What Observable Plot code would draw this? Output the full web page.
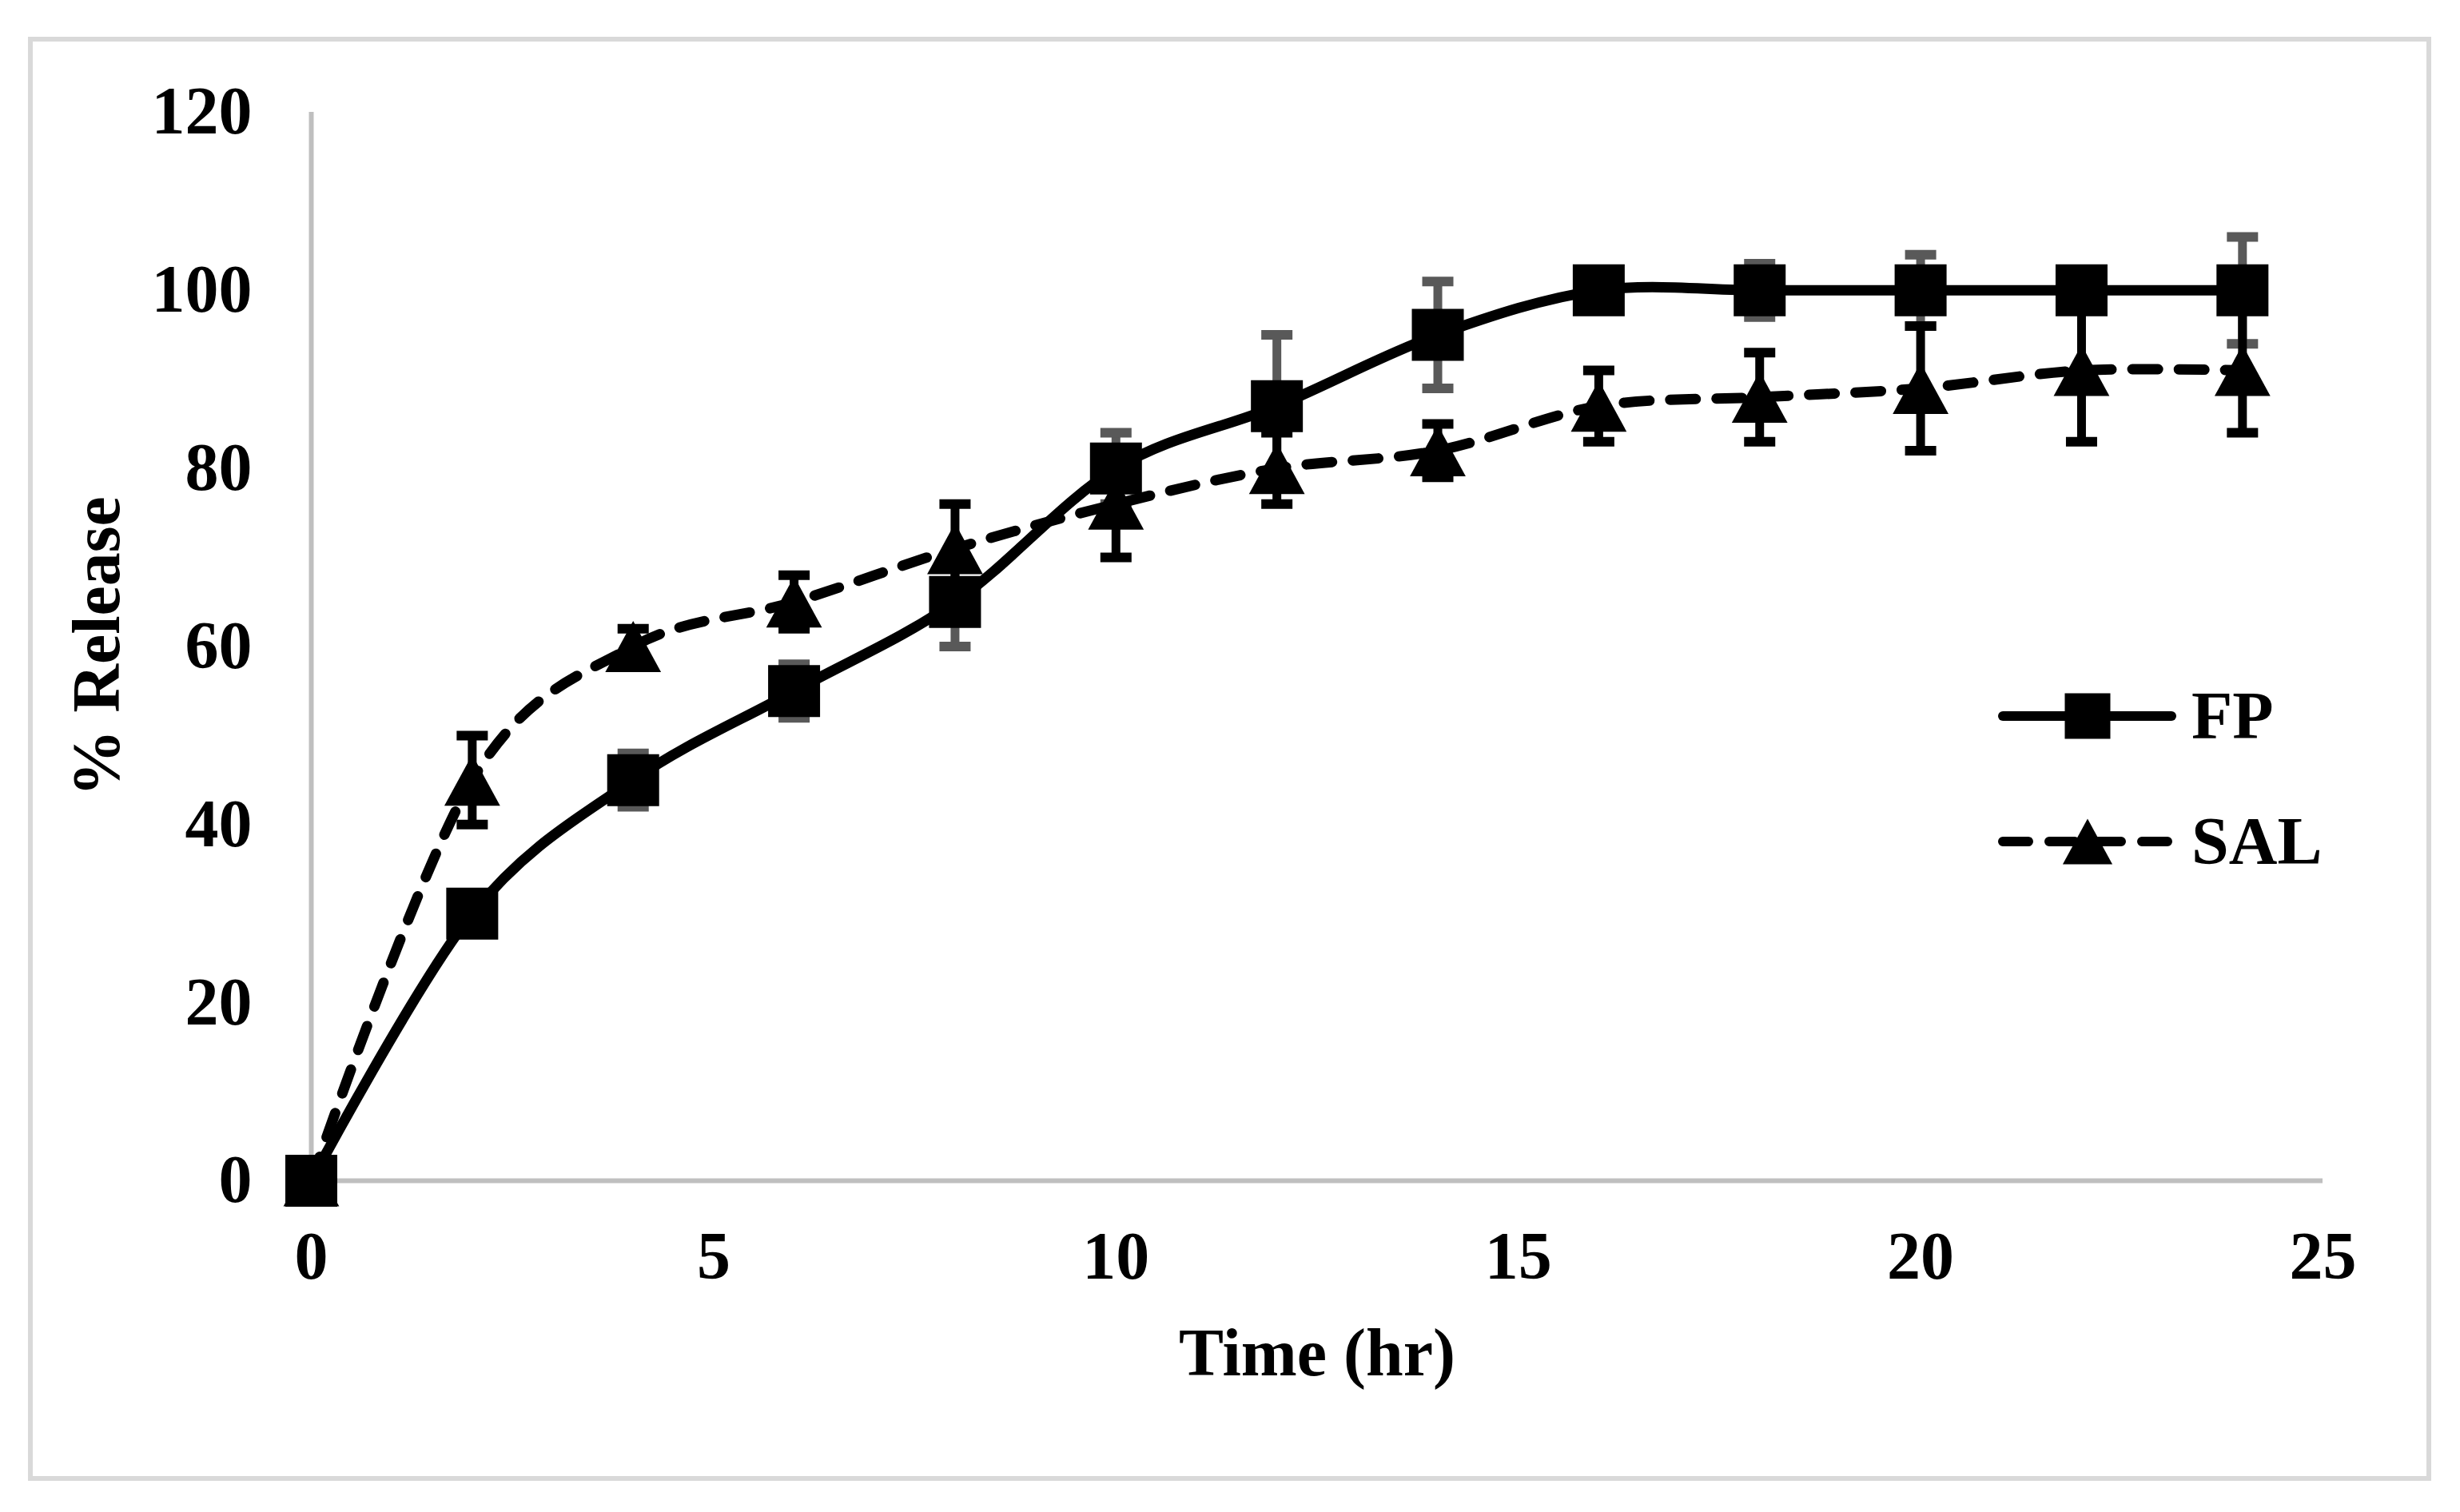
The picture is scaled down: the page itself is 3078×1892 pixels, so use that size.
<!DOCTYPE html>
<html>
<head>
<meta charset="utf-8">
<script src="https://cdn.jsdelivr.net/npm/d3@7"></script>
<script src="https://cdn.jsdelivr.net/npm/@observablehq/plot@0.6"></script>
<style>
  html, body { margin: 0; padding: 0; background: #fff; }
  #wrap { position: relative; width: 3078px; height: 1892px; overflow: hidden; }
  #frame { position: absolute; left: 35px; top: 46px; width: 2995px; height: 1795px; border: 6px solid #d9d9d9; }
  #chart { position: absolute; left: 0; top: 0; }
  #legend { position: absolute; left: 2480px; top: 820px; }
</style>
</head>
<body>
<div id="wrap">
  <div id="frame"></div>
  <div id="chart"></div>
  <div id="legend"></div>
</div>
<script>
// ---- data ----
const time       = [0, 2, 4, 6, 8, 10, 12, 14, 16, 18, 20, 22, 24];
const fpRelease  = [0, 30, 45, 55, 65, 80, 87, 95, 100, 100, 100, 100, 100];
const fpError    = [0, 0, 3, 3, 5, 4, 8, 6, 0, 3, 4, 0, 6];
const salRelease = [0, 45, 60, 65, 71, 76, 80, 82, 87, 88, 89, 91, 91];
const salError   = [0, 5, 2, 3, 5, 6, 4, 3, 4, 5, 7, 8, 7];
const seriesNames = ["FP", "SAL"];
const xTicks = [0, 5, 10, 15, 20, 25];
const yTicks = [0, 20, 40, 60, 80, 100, 120];
const xTitle = "Time (hr)";
const yTitle = "% Release";

// ---- tables ----
const fp  = time.map((t, i) => ({t, v: fpRelease[i],  e: fpError[i]}));
const sal = time.map((t, i) => ({t, v: salRelease[i], e: salError[i]}));

// ---- custom symbols (r = half size) ----
const half = size => Math.sqrt(size / Math.PI);
const squareSym = {draw(ctx, size) { const h = half(size); ctx.moveTo(-h, -h); ctx.lineTo(h, -h); ctx.lineTo(h, h); ctx.lineTo(-h, h); ctx.closePath(); }};
const triSym = {draw(ctx, size) { const h = half(size), w = h * 1.09; ctx.moveTo(0, -h); ctx.lineTo(w, h); ctx.lineTo(-w, h); ctx.closePath(); }};
const capSym = {draw(ctx, size) { const h = half(size); ctx.moveTo(-h, 0); ctx.lineTo(h, 0); }};

const FONT = '"Liberation Serif", "Times New Roman", serif';
const lineW = 13;
const dash = "32 26";

function errorMarks(rows, color) {
  const r = rows.filter(d => d.e > 0);
  return [
    Plot.ruleX(r, {x: "t", y1: d => d.v - d.e, y2: d => d.v + d.e, stroke: color, strokeWidth: 11}),
    Plot.dot(r, {x: "t", y: d => d.v + d.e, symbol: capSym, r: 19.5, fill: "none", stroke: color, strokeWidth: 12}),
    Plot.dot(r, {x: "t", y: d => d.v - d.e, symbol: capSym, r: 19.5, fill: "none", stroke: color, strokeWidth: 12})
  ];
}

const chart = Plot.plot({
  width: 3078,
  height: 1892,
  marginLeft: 389,
  marginRight: 172,
  marginTop: 140,
  marginBottom: 415,
  style: {fontFamily: FONT, fontSize: "84px", fontWeight: "bold", color: "black", background: "transparent", overflow: "visible"},
  x: {domain: [0, 25], ticks: xTicks, tickSize: 0, tickPadding: 63, label: null},
  y: {domain: [0, 120], ticks: yTicks, tickSize: 0, tickPadding: 74, label: null},
  marks: [
    Plot.ruleX([0], {stroke: "#bfbfbf", strokeWidth: 6}),
    Plot.ruleY([0], {stroke: "#bfbfbf", strokeWidth: 6}),
    Plot.line(fp, {x: "t", y: "v", curve: "cardinal", stroke: "black", strokeWidth: lineW, strokeLinejoin: "round", strokeLinecap: "round"}),
    ...errorMarks(fp, "#595959"),
    Plot.dot(fp, {x: "t", y: "v", symbol: squareSym, r: 32.5, fill: "black", stroke: "none"}),
    Plot.line(sal, {x: "t", y: "v", curve: "cardinal", stroke: "black", strokeWidth: lineW, strokeDasharray: dash, strokeLinejoin: "round", strokeLinecap: "round"}),
    ...errorMarks(sal, "black"),
    Plot.dot(sal, {x: "t", y: "v", symbol: triSym, r: 32, fill: "black", stroke: "none"}),
    Plot.text([xTitle], {text: d => d, frameAnchor: "bottom", lineAnchor: "middle", textAnchor: "middle", dy: 217, fontSize: 84, fontWeight: "bold", fill: "black"}),
    Plot.text([yTitle], {text: d => d, frameAnchor: "left", lineAnchor: "middle", textAnchor: "middle", dx: -267, rotate: -90, fontSize: 84, fontWeight: "bold", fill: "black"})
  ]
});
document.getElementById("chart").append(chart);

// ---- legend ----
const leg = d3.create("svg").attr("width", 560).attr("height", 300)
  .style("font-family", FONT).style("font-weight", "bold").style("font-size", "84px");
const symbols = [squareSym, triSym];
const dashes = [null, dash];
seriesNames.forEach((name, i) => {
  const g = leg.append("g").attr("transform", `translate(0,${76 + i * 157})`);
  g.append("line").attr("x1", 26).attr("x2", 237).attr("y1", 0).attr("y2", 0)
    .attr("stroke", "black").attr("stroke-width", 12).attr("stroke-linecap", "round")
    .attr("stroke-dasharray", dashes[i]);
  g.append("path").attr("transform", "translate(132,0)")
    .attr("d", d3.symbol(symbols[i], Math.PI * 28.5 * 28.5)()).attr("fill", "black");
  g.append("text").attr("x", 262).attr("dy", "0.33em").attr("fill", "black").text(name);
});
document.getElementById("legend").append(leg.node());
</script>
</body>
</html>
